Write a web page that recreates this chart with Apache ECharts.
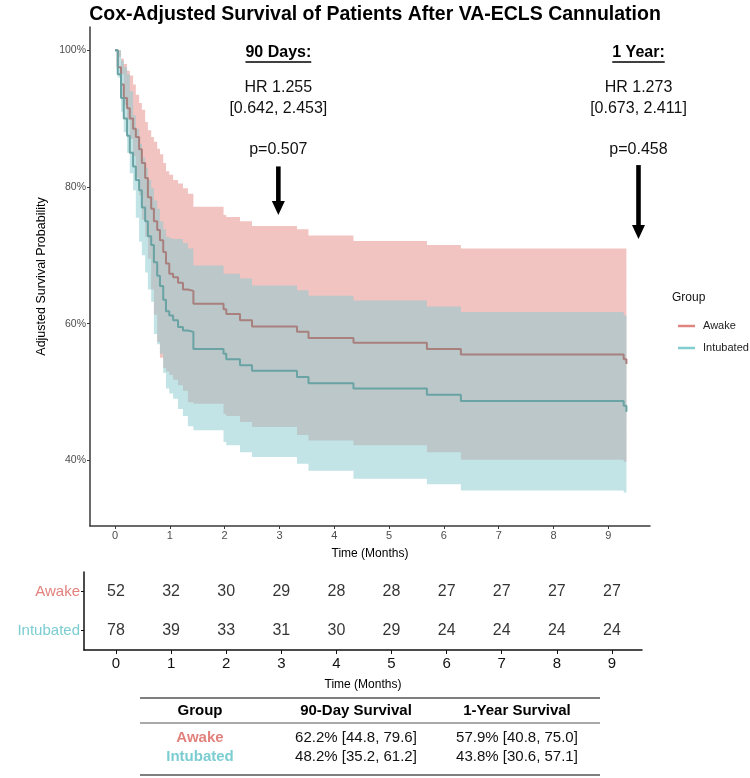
<!DOCTYPE html>
<html>
<head>
<meta charset="utf-8">
<script src="https://cdn.jsdelivr.net/npm/echarts@6.0.0/dist/echarts.min.js"></script>
<style>
  html, body { margin: 0; padding: 0; background: #fff; }
  #chart-container { width: 750px; height: 778px; }
</style>
</head>
<body>
<div id="chart-container"></div>
<script>
var dom = document.getElementById("chart-container");
var myChart = echarts.init(dom, null, { renderer: "canvas" });

var FONT = "'Liberation Sans', Arial, sans-serif";

// step times (months) shared by both adjusted curves
const times = [0, 0.05, 0.11, 0.16, 0.22, 0.27, 0.33, 0.38, 0.44, 0.49, 0.55, 0.60, 0.66, 0.71, 0.77, 0.82, 0.88, 0.93, 0.99, 1.06, 1.15, 1.24, 1.33, 1.43, 1.98, 2.03, 2.28, 2.50, 3.32, 3.53, 4.35, 5.69, 6.31, 9.28, 9.33];

// adjusted survival (%) and confidence bands
const awakeSurv  = [100, 97.5, 95, 93, 91.5, 90, 88.5, 87.3, 85.5, 83.5, 81.3, 78.5, 76.8, 75, 73.7, 72.2, 70.5, 68.8, 67.3, 66.8, 66.0, 65.0, 64.8, 62.9, 62.1, 61.4, 60.5, 59.6, 58.8, 57.9, 57.2, 56.3, 55.5, 54.8, 54.1];
const awakeUpper = [100, 100, 98.8, 98, 97, 96.3, 95, 93.5, 92.3, 91.3, 89.5, 88.3, 87.3, 86.6, 85.6, 84.8, 83.5, 82.3, 81.8, 81.0, 80.5, 79.8, 79.0, 77.1, 75.9, 75.6, 75.0, 74.3, 73.8, 72.9, 72.1, 71.5, 71.0, 71.0, 70.5];
const awakeLower = [100, 99, 96.5, 92, 89.8, 87, 84.5, 81.3, 78.8, 75.2, 72.7, 69.5, 65, 61.3, 57.3, 55, 53.5, 53, 52.5, 51.8, 51.0, 50.2, 48.5, 48.3, 46.8, 46.5, 45.6, 44.9, 43.7, 42.9, 42.2, 41.2, 40.1, 39.8, 39.3];

const intubSurv  = [100, 96.5, 93, 90, 87.5, 85, 83, 81, 79.5, 77, 75, 72.8, 71.5, 69, 67, 65.5, 63.5, 61.8, 61.2, 60.5, 59.5, 59.0, 58.8, 56.3, 55.6, 54.8, 53.9, 53.1, 52.2, 51.3, 50.5, 49.6, 48.7, 48.0, 47.1];
const intubUpper = [100, 100, 98.5, 97.5, 96.5, 94, 90.5, 88.5, 86.3, 84.3, 82.8, 81, 79.8, 78, 76.8, 75, 73.8, 72.7, 72.5, 72.4, 72.4, 71.8, 71.0, 68.5, 67.3, 67.3, 66.6, 65.6, 64.9, 64.1, 63.4, 62.5, 61.7, 61.2, 60.5];
const intubLower = [100, 96, 91, 88, 85, 82, 79.5, 75.5, 72, 70, 67.5, 65, 63.2, 58.5, 57, 55.6, 52.8, 50.5, 49.8, 49, 47.5, 46.5, 45, 44.4, 42.7, 42.2, 41.2, 40.5, 39.5, 38.5, 37.3, 36.5, 35.6, 35.3, 34.9];

const yTicks = [40, 60, 80, 100];
const xTicks = [0, 1, 2, 3, 4, 5, 6, 7, 8, 9];

// numbers at risk
const riskGroups = ["Intubated", "Awake"];
const riskMonths = [0, 1, 2, 3, 4, 5, 6, 7, 8, 9];
const awakeRisk = [52, 32, 30, 29, 28, 28, 27, 27, 27, 27];
const intubRisk = [78, 39, 33, 31, 30, 29, 24, 24, 24, 24];

// annotations
const annotTimes = [2.98, 9.55];
const annotTitles = ["90 Days:", "1 Year:"];
const annotHR = ["HR 1.255", "HR 1.273"];
const annotCI = ["[0.642, 2.453]", "[0.673, 2.411]"];
const annotP = ["p=0.507", "p=0.458"];
const arrowTop = [83.0, 83.2];
const arrowTip = [75.9, 72.4];

// summary table
const tableGroups = ["Awake", "Intubated"];
const surv90 = ["62.2% [44.8, 79.6]", "48.2% [35.2, 61.2]"];
const surv1y = ["57.9% [40.8, 75.0]", "43.8% [30.6, 57.1]"];

const groupColors = { Awake: "#e2827d", Intubated: "#7ccdd1" };

function pairs(arr) {
  return times.map(function (t, i) { return [t, arr[i]]; });
}
function bandRows(lo, hi) {
  return times.map(function (t, i) { return [t, lo[i], hi[i]]; });
}

// one step-shaped polygon per band, built from all rows of the series
function bandRenderer(fill) {
  return function (params, api) {
    if (params.dataIndexInside !== 0) return null;
    var n = params.dataInsideLength;
    var upper = [], lower = [];
    for (var i = 0; i < n; i++) {
      var t = api.value(0, i);
      var tNext = i < n - 1 ? api.value(0, i + 1) : t;
      upper.push(api.coord([t, api.value(2, i)]), api.coord([tNext, api.value(2, i)]));
      lower.push(api.coord([t, api.value(1, i)]), api.coord([tNext, api.value(1, i)]));
    }
    return {
      type: "polygon",
      shape: { points: upper.concat(lower.reverse()) },
      style: { fill: fill, opacity: 0.5 },
    };
  };
}

var axisCol = "#3a3a3a";

var option = {
  animation: false,
  backgroundColor: "#fff",
  title: {
    text: "Cox-Adjusted Survival of Patients After VA-ECLS Cannulation",
    left: "center",
    top: 0,
    textStyle: { fontFamily: FONT, fontSize: 19.5, fontWeight: "bold", color: "#000" },
  },
  legend: {
    orient: "vertical",
    left: 673,
    top: 314,
    icon: "rect",
    itemWidth: 17,
    itemHeight: 2.5,
    itemGap: 8,
    textStyle: { fontFamily: FONT, fontSize: 11, color: "#222", lineHeight: 14, padding: [0, 0, 0, 3] },
    data: [
      { name: "Awake", itemStyle: { color: "#e0847f" } },
      { name: "Intubated", itemStyle: { color: "#82cdd0" } },
    ],
  },
  grid: [
    { left: 90, top: 27, width: 560, height: 499 },
    { left: 84, top: 572, width: 558, height: 78 },
  ],
  xAxis: [
    {
      type: "value",
      gridIndex: 0,
      min: -0.456,
      max: 9.76,
      name: "Time (Months)",
      nameLocation: "middle",
      nameGap: 22,
      nameTextStyle: { fontFamily: FONT, fontSize: 12, color: "#000" },
      axisLine: { show: true, onZero: false, lineStyle: { color: axisCol, width: 1.5 } },
      axisTick: { show: true, customValues: xTicks, length: 3, lineStyle: { color: axisCol } },
      axisLabel: { customValues: xTicks, fontFamily: FONT, fontSize: 11, color: "#4d4d4d", margin: 4 },
      splitLine: { show: false },
    },
    {
      type: "value",
      gridIndex: 1,
      min: -0.58,
      max: 9.545,
      name: "Time (Months)",
      nameLocation: "middle",
      nameGap: 29,
      nameTextStyle: { fontFamily: FONT, fontSize: 12, color: "#000" },
      axisLine: { show: true, onZero: false, lineStyle: { color: "#111", width: 1.5 } },
      axisTick: { show: true, customValues: riskMonths, length: 4, lineStyle: { color: "#111" } },
      axisLabel: { customValues: riskMonths, fontFamily: FONT, fontSize: 15, color: "#111", margin: 6 },
      splitLine: { show: false },
    },
  ],
  yAxis: [
    {
      type: "value",
      gridIndex: 0,
      min: 30.4,
      max: 103.4,
      name: "Adjusted Survival Probability",
      nameLocation: "middle",
      nameGap: 35,
      nameTextStyle: { fontFamily: FONT, fontSize: 12.5, color: "#000" },
      axisLine: { show: true, onZero: false, lineStyle: { color: axisCol, width: 1.5 } },
      axisTick: { show: true, customValues: yTicks, length: 3, lineStyle: { color: axisCol } },
      axisLabel: {
        customValues: yTicks,
        fontFamily: FONT,
        fontSize: 10.5,
        color: "#4d4d4d",
        margin: 4,
        formatter: function (v) { return v + "%"; },
      },
      splitLine: { show: false },
    },
    {
      type: "category",
      gridIndex: 1,
      data: riskGroups,
      axisLine: { show: true, onZero: false, lineStyle: { color: "#111", width: 1.5 } },
      axisTick: { show: true, alignWithLabel: true, length: 3, lineStyle: { color: "#111" } },
      axisLabel: {
        fontFamily: FONT,
        fontSize: 15,
        margin: 4,
        formatter: function (v) { return "{" + v + "|" + v + "}"; },
        rich: {
          Awake: { color: groupColors.Awake, fontSize: 15, fontFamily: FONT },
          Intubated: { color: groupColors.Intubated, fontSize: 15, fontFamily: FONT },
        },
      },
      splitLine: { show: false },
    },
  ],
  series: [
    {
      type: "custom", name: "awakeBand", data: bandRows(awakeLower, awakeUpper),
      encode: { x: 0, y: [1, 2] }, renderItem: bandRenderer("#e48986"), silent: true, z: 1,
    },
    {
      type: "custom", name: "intubBand", data: bandRows(intubLower, intubUpper),
      encode: { x: 0, y: [1, 2] }, renderItem: bandRenderer("#85c9cd"), silent: true, z: 2,
    },
    {
      type: "line", name: "Awake", step: "end", data: pairs(awakeSurv),
      symbol: "none", lineStyle: { color: "#a8807e", width: 2 }, itemStyle: { color: "#a8807e" }, z: 3,
    },
    {
      type: "line", name: "Intubated", step: "end", data: pairs(intubSurv),
      symbol: "none", lineStyle: { color: "#6aa3a4", width: 2 }, itemStyle: { color: "#6aa3a4" }, z: 3,
    },
    // numbers at risk
    {
      type: "scatter", name: "riskAwake", xAxisIndex: 1, yAxisIndex: 1,
      data: riskMonths.map(function (m, i) { return [m, "Awake", awakeRisk[i]]; }),
      symbolSize: 0, silent: true,
      label: { show: true, position: "inside", formatter: function (p) { return p.value[2]; }, fontFamily: FONT, fontSize: 16, color: "#000" },
    },
    {
      type: "scatter", name: "riskIntub", xAxisIndex: 1, yAxisIndex: 1,
      data: riskMonths.map(function (m, i) { return [m, "Intubated", intubRisk[i]]; }),
      symbolSize: 0, silent: true,
      label: { show: true, position: "inside", formatter: function (p) { return p.value[2]; }, fontFamily: FONT, fontSize: 16, color: "#000" },
    },
  ],
};

myChart.setOption(option);

// annotation texts, arrows and the summary table
var measureCtx = document.createElement("canvas").getContext("2d");
function textWidth(txt, font) {
  measureCtx.font = font;
  return measureCtx.measureText(txt).width;
}

var graphics = [];
annotTimes.forEach(function (t, i) {
  var x = myChart.convertToPixel({ xAxisIndex: 0, yAxisIndex: 0 }, [t, 100])[0];
  var top = myChart.convertToPixel({ xAxisIndex: 0, yAxisIndex: 0 }, [t, arrowTop[i]])[1];
  var tip = myChart.convertToPixel({ xAxisIndex: 0, yAxisIndex: 0 }, [t, arrowTip[i]])[1];
  var boldFont = "bold 16px " + FONT;
  var w = textWidth(annotTitles[i], boldFont);
  graphics.push(
    { type: "text", style: { text: annotTitles[i], x: x, y: 53, align: "center", verticalAlign: "middle", font: boldFont, fill: "#000" } },
    { type: "line", shape: { x1: x - w / 2, y1: 62, x2: x + w / 2, y2: 62 }, style: { stroke: "#000", lineWidth: 1.3 } },
    { type: "text", style: { text: annotHR[i], x: x, y: 88, align: "center", verticalAlign: "middle", font: "16px " + FONT, fill: "#111" } },
    { type: "text", style: { text: annotCI[i], x: x, y: 109, align: "center", verticalAlign: "middle", font: "16px " + FONT, fill: "#111" } },
    { type: "text", style: { text: annotP[i], x: x, y: 150, align: "center", verticalAlign: "middle", font: "16px " + FONT, fill: "#111" } },
    { type: "rect", shape: { x: x - 2.3, y: top, width: 4.6, height: tip - top - 12 }, style: { fill: "#000" } },
    { type: "polygon", shape: { points: [[x - 6.5, tip - 14], [x + 6.5, tip - 14], [x, tip]] }, style: { fill: "#000" } }
  );
});

graphics.push({ type: "text", style: { text: "Group", x: 672, y: 298, verticalAlign: "middle", font: "12px " + FONT, fill: "#111" } });

// summary table
var colX = [200, 356, 517];
var headers = ["Group", "90-Day Survival", "1-Year Survival"];
graphics.push(
  { type: "line", shape: { x1: 140, y1: 698, x2: 600, y2: 698 }, style: { stroke: "#555", lineWidth: 1.6 } },
  { type: "line", shape: { x1: 140, y1: 723, x2: 600, y2: 723 }, style: { stroke: "#555", lineWidth: 1 } },
  { type: "line", shape: { x1: 140, y1: 775, x2: 600, y2: 775 }, style: { stroke: "#555", lineWidth: 1.6 } }
);
headers.forEach(function (h, j) {
  graphics.push({ type: "text", style: { text: h, x: colX[j], y: 711, align: "center", verticalAlign: "middle", font: "bold 15px " + FONT, fill: "#000" } });
});
tableGroups.forEach(function (g, i) {
  var y = 738 + i * 19;
  graphics.push(
    { type: "text", style: { text: g, x: colX[0], y: y, align: "center", verticalAlign: "middle", font: "bold 15px " + FONT, fill: groupColors[g] } },
    { type: "text", style: { text: surv90[i], x: colX[1], y: y, align: "center", verticalAlign: "middle", font: "15px " + FONT, fill: "#111" } },
    { type: "text", style: { text: surv1y[i], x: colX[2], y: y, align: "center", verticalAlign: "middle", font: "15px " + FONT, fill: "#111" } }
  );
});

myChart.setOption({ graphic: graphics.map(function (g) { g.silent = true; return g; }) });

window.addEventListener("resize", myChart.resize);
</script>
</body>
</html>
